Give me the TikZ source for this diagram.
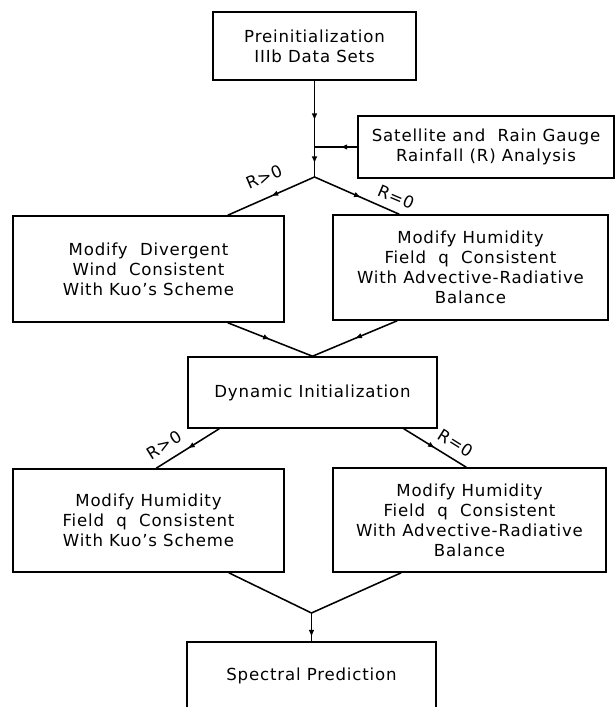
\documentclass[tikz,border=0pt]{standalone}
\usepackage{fontspec}
\setmainfont{DejaVu Sans}[LetterSpace=5]
\usetikzlibrary{decorations.markings,arrows.meta}

\begin{document}
\begin{tikzpicture}[
        box/.style={draw, line width=1.1pt, align=center, inner sep=2pt, font=\fontsize{11.8}{14.2}\selectfont},
        lbl/.style={font=\fontsize{11.8}{13}\selectfont, inner sep=0pt},
        link/.style={line width=1.1pt},
        midarrow/.style={postaction={decorate}, decoration={markings, mark=at position #1 with {\arrow{Latex[length=5pt,width=4pt]}}}}
    ]
        \useasboundingbox (0,0) rectangle (15.35,17.675);
        % Boxes
        \node[box, minimum width=5.075cm, minimum height=1.7cm] (pre) at (7.8625,16.525) {Preinitialization\\IIIb Data Sets};
        \node[box, minimum width=6.4cm, minimum height=1.55cm] (sat) at (12.15,14.0) {Satellite and\ \ Rain Gauge\\Rainfall (R) Analysis};
        \node[box, minimum width=6.775cm, minimum height=2.65cm] (kuoW) at (3.7125,10.95) {Modify\ \ Divergent\\Wind\ \ Consistent\\With Kuo's Scheme};
        \node[box, minimum width=6.875cm, minimum height=2.625cm] (advA) at (11.7625,10.9875) {Modify Humidity\\Field\ \ q\ \ Consistent\\With Advective-Radiative\\Balance};
        \node[box, minimum width=6.225cm, minimum height=1.775cm] (dyn) at (7.8125,7.8625) {Dynamic Initialization};
        \node[box, minimum width=6.775cm, minimum height=2.575cm] (kuoQ) at (3.7125,4.6625) {Modify Humidity\\Field\ \ q\ \ Consistent\\With Kuo's Scheme};
        \node[box, minimum width=6.825cm, minimum height=2.6cm] (advB) at (11.7375,4.675) {Modify Humidity\\Field\ \ q\ \ Consistent\\With Advective-Radiative\\Balance};
        \node[box, minimum width=6.225cm, minimum height=1.7cm] (spec) at (7.7875,0.775) {Spectral Prediction};
        % Junctions
        \coordinate (tap) at (sat.west -| pre.south);
        \coordinate (split) at (7.8625,13.25);
        \coordinate (merge) at (7.7875,2.35);
        % Rainfall analysis feeds the main line
        \draw[link, midarrow=0.6] (pre.south) -- (tap);
        \draw[link, midarrow=0.55] (tap) -- (split);
        \draw[link, midarrow=0.4] (sat.west) -- (tap);
        % First branch
        \draw[link, midarrow=0.5] (split) -- ([xshift=-1.425cm]kuoW.north east);
        \draw[link, midarrow=0.55] (split) -- ([xshift=1.675cm]advA.north west);
        \node[lbl, rotate=23] (gtA) at (6.6,13.25) {R>0};
        \node[lbl, rotate=-23] (eqA) at (9.9,12.75) {R=0};
        \draw[link, midarrow=0.5] ([xshift=-1.425cm]kuoW.south east) -- (dyn.north);
        \draw[link, midarrow=0.5] ([xshift=1.625cm]advA.south west) -- (dyn.north);
        % Second branch
        \draw[link, midarrow=0.5] ([xshift=0.8cm]dyn.south west) -- ([xshift=3.6cm]kuoQ.north west);
        \draw[link, midarrow=0.5] ([xshift=-0.85cm]dyn.south east) -- ([xshift=3.35cm]advB.north west);
        \node[lbl, rotate=32] (gtB) at (4.1,6.55) {R>0};
        \node[lbl, rotate=-32] (eqB) at (11.4,6.6) {R=0};
        \draw[link] ([xshift=-1.4cm]kuoQ.south east) -- (merge);
        \draw[link] ([xshift=1.725cm]advB.south west) -- (merge);
        \draw[link, midarrow=0.85] (merge) -- (spec.north);
    \end{tikzpicture}
\end{document}
